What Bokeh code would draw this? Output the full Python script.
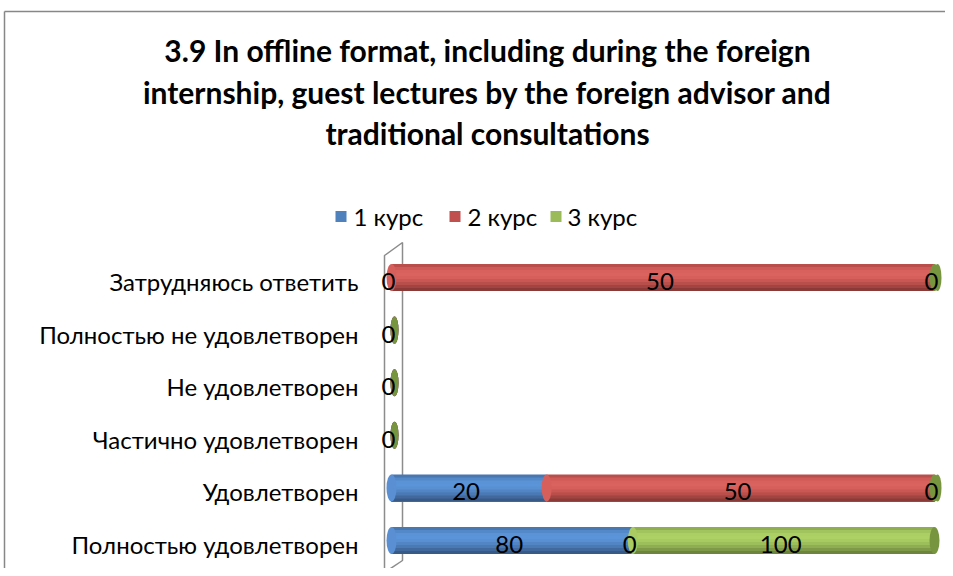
from bokeh.plotting import figure
from bokeh.models import Range1d
from bokeh.core.properties import value
from bokeh.embed import file_html
from bokeh.resources import INLINE

# ---------------- data ----------------
title_lines = ["3.9 In offline format, including during the foreign",
               "internship, guest lectures by the foreign advisor and",
               "traditional consultations"]
categories = ["Полностью удовлетворен", "Удовлетворен", "Частично удовлетворен",
              "Не удовлетворен", "Полностью не удовлетворен", "Затрудняюсь ответить"]
series_names = ["1 курс", "2 курс", "3 курс"]
kurs1 = [80, 20, 0, 0, 0, 0]
kurs2 = [0, 50, 0, 0, 0, 50]
kurs3 = [100, 0, 0, 0, 0, 0]
series_values = [kurs1, kurs2, kurs3]

# ---------------- style ----------------
FONT = "Lato"
legend_colors = ["#4F81BD", "#C0504D", "#9BBB59"]
shades = [
    ["#4977b0", "#5388c9", "#5a93d6", "#5b94d8", "#5890d2", "#5185c4", "#4a79b3", "#41699d", "#385a87"],
    ["#b94e4b", "#cf5a57", "#d9615d", "#db635f", "#d65f5b", "#c95753", "#b84f4b", "#a24441", "#8c3a37"],
    ["#8fae52", "#a2c45e", "#abcf63", "#add165", "#a8cb61", "#9dbf5b", "#8fae53", "#7e9a48", "#6c843d"],
]
mid_colors = ["#5a90d3", "#d65f5b", "#a9cb61"]
cap_colors = ["#41699d", "#a24441", "#77953f"]

W, H = 945, 568
ORG_X, ORG_Y = 0.0, 1.0    # page offset of the canvas as photographed
PX0, PXS = 391.0, 5.43     # page x of 0 %, px per %
PY0, PYS = 545.0, 52.6     # page y of first category, px per category


def X(px):
    return (px - PX0) / PXS


def Y(py):
    return (PY0 - py) / PYS


p = figure(width=W, height=H, output_backend="svg", toolbar_location=None,
           x_range=Range1d(X(ORG_X), X(ORG_X + W)), y_range=Range1d(Y(ORG_Y + H), Y(ORG_Y)),
           min_border=0)
p.xaxis.visible = False
p.yaxis.visible = False
p.xgrid.visible = False
p.ygrid.visible = False
p.outline_line_color = None
p.background_fill_color = "white"
p.border_fill_color = "white"

# chart-area border (top and left edges visible)
p.segment(x0=[X(4), X(4)], y0=[Y(12), Y(12)], x1=[X(960), X(4)], y1=[Y(12), Y(600)],
          line_color="#878787", line_width=1.5)

n = len(categories)
rows = list(range(n))
totals = [sum(v[i] for v in series_values) for i in rows]
pct = [[(v[i] / totals[i] * 100.0 if totals[i] else 0.0) for i in rows] for v in series_values]

# 3D back wall
p.patch([X(384), X(402), X(402), X(384)], [Y(256), Y(243), Y(561), Y(573)],
        fill_color="white", line_color="#8c8c8c", line_width=1.5)

bar_dy = 4.0 / PYS
bar_h = 27.0 / PYS
ybar = [i + bar_dy for i in rows]

starts = [0.0] * n
labels_x, labels_y, labels_t = [], [], []
seen = set()
for s, vals in enumerate(series_values):
    left = starts[:]
    right = [left[i] + pct[s][i] for i in rows]
    nstrip = len(shades[s])
    sh = bar_h / nstrip
    for k, col in enumerate(shades[s]):
        # each strip runs from its own top edge down to the bar bottom
        top = bar_h / 2 - k * sh
        hk = bar_h - k * sh
        yk = [y + top - hk / 2 for y in ybar]
        p.hbar(y=yk, left=left, right=right, height=hk,
               fill_color=col, line_color=None)
    ecol = [mid_colors[s] if pct[s][i] > 0 else cap_colors[s] for i in rows]
    ew = [10 if pct[s][i] > 0 else 8 for i in rows]
    ex = [left[i] if pct[s][i] > 0 else left[i] + 3.0 / PXS for i in rows]
    p.ellipse(x=ex, y=ybar, width=ew, height=27, width_units="screen",
              height_units="screen", fill_color=ecol, line_color=None)
    for i in rows:
        cx = (left[i] + right[i]) / 2
        key = (i, round(cx, 3))
        if key not in seen:
            seen.add(key)
            labels_x.append(cx)
            labels_y.append(i)
            labels_t.append(str(vals[i]))
    starts = right

# right end caps (top face of last series)
end_rows = [i for i in rows if totals[i] > 0]
p.ellipse(x=[starts[i] for i in end_rows], y=[ybar[i] for i in end_rows], width=10, height=27,
          width_units="screen", height_units="screen", fill_color=cap_colors[-1], line_color=None)

# data labels
p.text(x=labels_x, y=labels_y, text=labels_t, text_font=value(FONT), text_font_size="24px",
       text_align="center", text_baseline="middle", text_color="#000000", x_offset=-3)

# category labels
p.text(x=[X(358)] * n, y=rows, text=categories, text_font=value(FONT), text_font_size="24px",
       text_align="right", text_baseline="middle", text_color="#000000")

# title
for line, py in zip(title_lines, [50, 92, 133]):
    p.text(x=[X(487)], y=[Y(py)], text=[line], text_font=value(FONT), text_font_size="30px",
           text_font_style="bold", text_align="center", text_baseline="middle", text_color="#000000")

# legend
leg_sq = [340.5, 454.5, 555.5]
leg_tx = [353, 467, 567]
p.scatter(x=[X(v) for v in leg_sq], y=[Y(217)] * 3, marker="square", size=11,
          fill_color=legend_colors, line_color=None)
p.text(x=[X(v) for v in leg_tx], y=[Y(217)] * 3, text=series_names, text_font=value(FONT),
       text_font_size="24px", text_align="left", text_baseline="middle", text_color="#000000")

open("out.html", "w").write(file_html(p, INLINE))
